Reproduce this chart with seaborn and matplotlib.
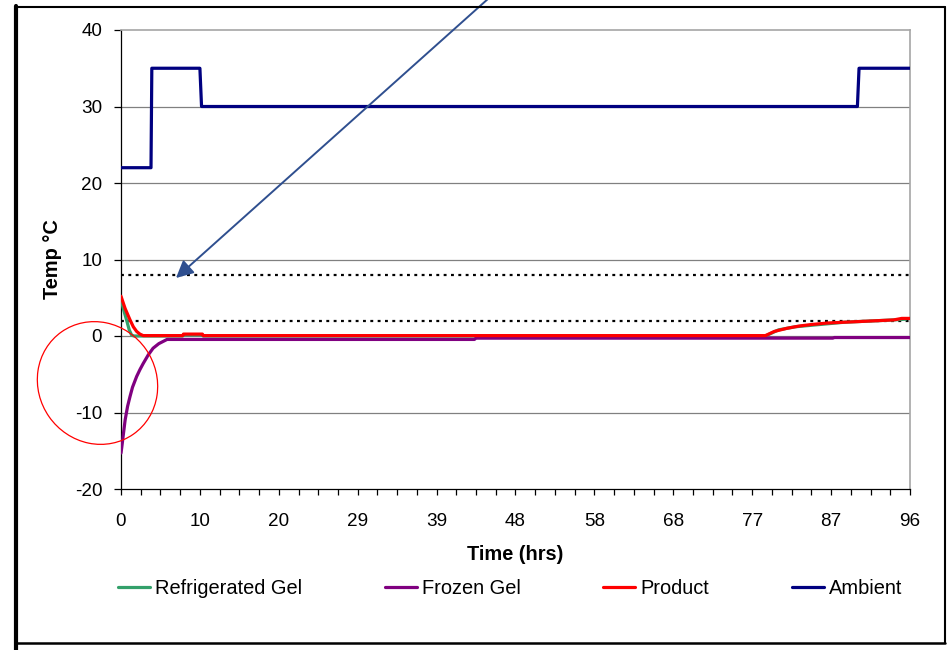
import numpy as np
import pandas as pd
import matplotlib
matplotlib.use("Agg")
import matplotlib.pyplot as plt
from matplotlib.lines import Line2D
from matplotlib.patches import Ellipse
from matplotlib.ticker import FixedLocator
import seaborn as sns

# ---------------- data ----------------
series_names = ["Refrigerated Gel", "Frozen Gel", "Product", "Ambient"]
series_colors = ["#33A06A", "#800080", "#FF0000", "#000080"]

refrig_time = [0, 0.3, 0.7, 1.0, 1.3, 1.6, 7.5, 7.6, 9.9, 10.0, 78.4, 80, 82, 84, 86, 88, 90, 92, 94, 95.5]
refrig_temp = [4.8, 3.5, 2.0, 0.8, 0.1, 0.0, 0.0, 0.15, 0.15, 0.0, 0.0, 0.8, 1.2, 1.4, 1.6, 1.8, 1.9, 2.0, 2.1, 2.2]

frozen_time = [0, 0.1, 0.5, 0.8, 1.1, 1.4, 1.9, 2.3, 2.7, 3.3, 3.9, 4.6, 5.6, 43.0, 43.2, 86.6, 86.8, 96]
frozen_temp = [-15.3, -14.5, -11.0, -9.2, -7.9, -6.7, -5.3, -4.4, -3.6, -2.5, -1.6, -1.0, -0.45, -0.45, -0.28, -0.28, -0.2, -0.2]

product_time = [0, 0.5, 1.1, 1.5, 1.9, 2.3, 2.7, 7.5, 7.6, 9.9, 10.0, 78.4, 79.5, 81, 82.5, 84, 86, 88, 90, 92, 94, 95, 96]
product_temp = [5.2, 3.6, 2.1, 1.2, 0.6, 0.25, 0.05, 0.05, 0.25, 0.25, 0.05, 0.05, 0.6, 1.0, 1.3, 1.5, 1.7, 1.8, 1.9, 2.0, 2.1, 2.3, 2.3]

ambient_time = [0, 3.65, 3.75, 9.6, 9.8, 89.6, 89.8, 96]
ambient_temp = [22, 22, 35, 35, 30, 30, 35, 35]

limit_lines = [8, 2]

x_tick_labels = ["0", "10", "20", "29", "39", "48", "58", "68", "77", "87", "96"]
y_ticks = [-20, -10, 0, 10, 20, 30, 40]

# ---------------- frame ----------------
frames = []
for name, t, v in zip(series_names,
                      [refrig_time, frozen_time, product_time, ambient_time],
                      [refrig_temp, frozen_temp, product_temp, ambient_temp]):
    frames.append(pd.DataFrame({"Time": t, "Temp": v, "Series": name}))
df = pd.concat(frames, ignore_index=True)

sns.set_style("white")
plt.rcParams["font.family"] = ["Liberation Sans", "DejaVu Sans"]
plt.rcParams["axes.unicode_minus"] = False
plt.rcParams["text.color"] = "black"
plt.rcParams["axes.labelcolor"] = "black"
plt.rcParams["xtick.color"] = "black"
plt.rcParams["ytick.color"] = "black"

W, H = 948, 650
fig = plt.figure(figsize=(W / 100, H / 100), dpi=100)
ax = fig.add_axes([121 / W, 1 - 489 / H, (910 - 121) / W, (489 - 30) / H])

# grid lines
for yv in y_ticks[1:-1]:
    ax.axhline(yv, color="#808080", lw=0.9, zorder=0.5)

palette = dict(zip(series_names, series_colors))
sns.lineplot(data=df, x="Time", y="Temp", hue="Series", units="Series",
             estimator=None, sort=False, palette=palette, hue_order=series_names,
             linewidth=2.3, legend=False, ax=ax, zorder=3)

for lv in limit_lines:
    ax.axhline(lv, color="black", lw=1.6, linestyle=(0, (1.3, 2.0)), zorder=2)

ax.set_xlim(0, 96)
ax.set_ylim(-20, 40)
major = np.linspace(0, 96, len(x_tick_labels))
ax.xaxis.set_major_locator(FixedLocator(major))
ax.xaxis.set_minor_locator(FixedLocator(np.linspace(0, 96, 41)))
ax.set_xticklabels(x_tick_labels)
ax.set_yticks(y_ticks)
ax.set_yticklabels([str(v) for v in y_ticks])

ax.tick_params(axis="x", which="both", direction="out", length=4.5, width=0.9,
               color="black", bottom=True, labelsize=13.6, pad=12.5, labelcolor="black")
ax.tick_params(axis="y", which="major", direction="out", length=5, width=0.9,
               color="black", left=True, labelsize=13.6, pad=8.5, labelcolor="black")

for s in ["top", "right"]:
    ax.spines[s].set_color("#A6A6A6")
    ax.spines[s].set_linewidth(1.2)
for s in ["left", "bottom"]:
    ax.spines[s].set_color("black")
    ax.spines[s].set_linewidth(0.9)

ax.set_xlabel("Time (hrs)", fontsize=14.4, fontweight="bold", labelpad=11, color="black")
ax.set_ylabel("Temp °C", fontsize=14.4, fontweight="bold", labelpad=9, color="black")

# legend
handles = [Line2D([0], [0], color=c, lw=2.3) for c in series_colors]
fig.legend(handles, series_names, loc="center", bbox_to_anchor=(510 / W, 1 - 588 / H),
           ncol=4, frameon=False, fontsize=14.4, handlelength=1.6,
           handletextpad=0.25, columnspacing=4.13, borderaxespad=0, labelcolor="black")

# annotations (figure pixel coordinates)
def px(x, y):
    return (x / W, 1 - y / H)

ax.annotate("", xy=px(176, 278), xycoords="figure fraction",
            xytext=px(489, -2), textcoords="figure fraction",
            arrowprops=dict(arrowstyle="-|>", color="#2F4F8F", lw=1.4,
                            mutation_scale=26, shrinkA=0, shrinkB=0),
            annotation_clip=False, zorder=10)

ell = Ellipse((0.975, (H - 383) / 100), 1.25, 1.18, angle=-55,
              transform=fig.dpi_scale_trans, fill=False, edgecolor="#FF0000", lw=0.9)
fig.patches.append(ell)

# outer border
def fline(xs, ys, lw):
    fig.add_artist(Line2D([x / W for x in xs], [1 - y / H for y in ys],
                          transform=fig.transFigure, color="black", lw=lw))

fline([16, 945], [6.5, 6.5], 1.5)
fline([945, 945], [6.5, 643], 1.5)
fline([15, 945], [643, 643], 1.8)
fline([15.5, 15.5], [6, 650], 3.0)

fig.savefig("out.png", dpi=100)
